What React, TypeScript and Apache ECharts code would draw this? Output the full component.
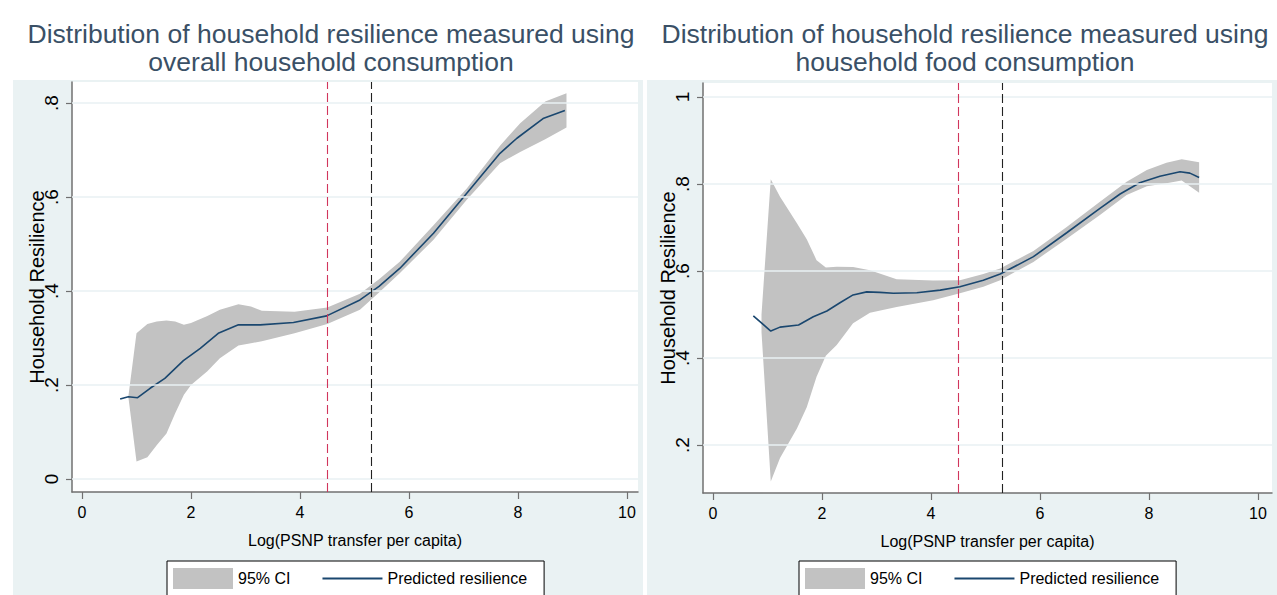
import React, { useEffect, useRef } from "react";
import * as echarts from "echarts";

// ---------------- DATA ----------------
const xTicks = [0, 2, 4, 6, 8, 10];
const leftYTicks = [0, 0.2, 0.4, 0.6, 0.8];
const rightYTicks = [0.2, 0.4, 0.6, 0.8, 1];
const thresholds = [4.5, 5.3];

// Panel 1: overall household consumption
const leftLineX = [0.7, 0.85, 1.02, 1.25, 1.52, 1.86, 2.17, 2.5, 2.87, 3.27, 3.88, 4.49, 5.1, 5.45, 5.83, 6.45, 7.06, 7.67, 7.98, 8.46, 8.86];
const leftLineY = [0.17, 0.175, 0.173, 0.193, 0.214, 0.252, 0.278, 0.31, 0.328, 0.328, 0.333, 0.347, 0.381, 0.41, 0.448, 0.523, 0.608, 0.693, 0.725, 0.767, 0.784];
const leftBandX = [0.85, 1.0, 1.2, 1.37, 1.55, 1.71, 1.87, 2.0, 2.3, 2.53, 2.87, 3.1, 3.3, 3.9, 4.5, 5.1, 5.45, 5.83, 6.45, 7.06, 7.67, 8.04, 8.5, 8.89];
const leftUpper = [0.175, 0.31, 0.33, 0.335, 0.337, 0.335, 0.328, 0.332, 0.347, 0.36, 0.372, 0.367, 0.358, 0.356, 0.365, 0.394, 0.425, 0.462, 0.54, 0.618, 0.709, 0.757, 0.803, 0.821];
const leftLower = [0.175, 0.037, 0.046, 0.072, 0.097, 0.14, 0.179, 0.2, 0.229, 0.257, 0.284, 0.289, 0.293, 0.31, 0.33, 0.36, 0.397, 0.438, 0.509, 0.594, 0.672, 0.696, 0.723, 0.748];

// Panel 2: household food consumption
const rightLineX = [0.74, 1.06, 1.23, 1.57, 1.84, 2.09, 2.33, 2.57, 2.82, 3.06, 3.31, 3.74, 4.17, 4.53, 4.96, 5.27, 5.88, 6.49, 7.1, 7.47, 7.83, 8.2, 8.57, 8.75, 8.92];
const rightLineY = [0.497, 0.462, 0.471, 0.476, 0.495, 0.508, 0.527, 0.545, 0.552, 0.551, 0.549, 0.55, 0.556, 0.564, 0.579, 0.593, 0.633, 0.688, 0.744, 0.777, 0.803, 0.818, 0.828, 0.825, 0.815];
const rightBandX = [0.89, 1.06, 1.23, 1.54, 1.72, 1.9, 2.07, 2.27, 2.57, 2.88, 3.37, 4.04, 4.53, 4.96, 5.27, 5.88, 6.49, 7.1, 7.59, 7.96, 8.32, 8.6, 8.92];
const rightUpper = [0.5, 0.811, 0.771, 0.71, 0.673, 0.625, 0.608, 0.61, 0.609, 0.602, 0.581, 0.578, 0.579, 0.593, 0.606, 0.646, 0.701, 0.759, 0.805, 0.832, 0.849, 0.857, 0.85];
const rightLower = [0.46, 0.116, 0.17, 0.238, 0.287, 0.357, 0.405, 0.43, 0.48, 0.504, 0.517, 0.533, 0.549, 0.564, 0.579, 0.621, 0.674, 0.729, 0.775, 0.795, 0.802, 0.808, 0.78];

const titles = [
  "Distribution of household resilience measured using\noverall household consumption",
  "Distribution of household resilience measured using\nhousehold food consumption",
];
const xName = "Log(PSNP transfer per capita)";
const yName = "Household Resilience";
const ciName = "95% CI";
const lineName = "Predicted resilience";

// ---------------- STYLE ----------------
const SANS = '"Liberation Sans", Arial, sans-serif';
const BAND = "#c2c2c2";
const LINE = "#1a476f";
const GRIDC = "#e9f1f3";
const PANEL = "#eaf2f3";
const AXISC = "#707070";
const RED = "#d1365c";

const fmtY = (v: number) => (v === 0 ? "0" : v === 1 ? "1" : String(v).replace(/^0/, ""));

function bandSeries(idx: number, bx: number[], up: number[], lo: number[]) {
  return {
    type: "custom",
    name: ciName,
    xAxisIndex: idx,
    yAxisIndex: idx,
    z: 2,
    silent: true,
    itemStyle: { color: BAND },
    data: [[bx[0], up[0]]],
    encode: { x: 0, y: 1 },
    renderItem: (_p: any, api: any) => {
      const pts: number[][] = [];
      for (let i = 0; i < bx.length; i++) pts.push(api.coord([bx[i], up[i]]));
      for (let i = bx.length - 1; i >= 0; i--) pts.push(api.coord([bx[i], lo[i]]));
      return { type: "polygon", shape: { points: pts }, style: { fill: BAND } };
    },
  };
}

function gridSeries(idx: number, ticks: number[], lx: number[], ly: number[]) {
  return {
    type: "line",
    xAxisIndex: idx,
    yAxisIndex: idx,
    z: 1,
    silent: true,
    symbol: "none",
    lineStyle: { opacity: 0 },
    data: lx.map((x, i) => [x, ly[i]]),
    markLine: {
      silent: true,
      symbol: "none",
      label: { show: false },
      lineStyle: { color: GRIDC, width: 1.6, type: "solid" },
      data: ticks.map((t) => ({ yAxis: t })),
    },
  };
}

function vlineSeries(idx: number, value: number, color: string, lx: number[], ly: number[]) {
  return {
    type: "line",
    xAxisIndex: idx,
    yAxisIndex: idx,
    z: 4,
    silent: true,
    symbol: "none",
    lineStyle: { opacity: 0 },
    data: lx.map((x, i) => [x, ly[i]]),
    markLine: {
      silent: true,
      symbol: "none",
      label: { show: false },
      lineStyle: { color, width: 1.1, type: [9, 4], opacity: 1 },
      data: [{ xAxis: value }],
    },
  };
}

function lineSeries(idx: number, lx: number[], ly: number[]) {
  return {
    type: "line",
    name: lineName,
    xAxisIndex: idx,
    yAxisIndex: idx,
    z: 3,
    symbol: "none",
    showSymbol: false,
    color: LINE,
    lineStyle: { color: LINE, width: 1.6 },
    data: lx.map((x, i) => [x, ly[i]]),
  };
}

function xAxisOpt(idx: number, max: number) {
  return {
    type: "value",
    gridIndex: idx,
    min: -0.1835,
    max,
    name: xName,
    nameLocation: "middle",
    nameGap: 40,
    nameMoveOverlap: false,
    nameTextStyle: { fontSize: 16, fontFamily: SANS, color: "#000" },
    axisLine: { show: true, onZero: false, lineStyle: { color: AXISC, width: 1.5 } },
    axisTick: { show: true, length: 7, customValues: xTicks, lineStyle: { color: AXISC, width: 1.2 } },
    axisLabel: { customValues: xTicks, margin: 12, fontSize: 16, fontFamily: SANS, color: "#000" },
    splitLine: { show: false },
  };
}

function yAxisOpt(idx: number, min: number, max: number, ticks: number[]) {
  return {
    type: "value",
    gridIndex: idx,
    min,
    max,
    name: yName,
    nameLocation: "middle",
    nameGap: 25,
    nameMoveOverlap: false,
    nameTextStyle: { fontSize: 20, fontFamily: SANS, color: "#000" },
    axisLine: { show: true, onZero: false, lineStyle: { color: AXISC, width: 1.5 } },
    axisTick: { show: true, length: 6, customValues: ticks, lineStyle: { color: AXISC, width: 1.2 } },
    axisLabel: {
      customValues: ticks,
      rotate: 90,
      margin: 11,
      fontSize: 19,
      fontFamily: SANS,
      color: "#000",
      formatter: (v: number) => fmtY(v),
    },
    splitLine: { show: false },
  };
}

function legendOpt(left: number) {
  return {
    left,
    top: 561,
    orient: "horizontal",
    backgroundColor: "#ffffff",
    borderColor: "#000000",
    borderWidth: 1,
    borderRadius: 0,
    padding: [7, 17, 7, 6],
    itemWidth: 60,
    itemHeight: 21,
    itemGap: 31,
    selectedMode: false,
    textStyle: { fontSize: 16, fontFamily: SANS, color: "#000" },
    data: [
      { name: ciName, icon: "rect", itemStyle: { color: BAND } },
      { name: lineName, itemStyle: { color: "rgba(0,0,0,0)", borderWidth: 0, opacity: 0 } },
    ],
  };
}

export default function App() {
  const ref = useRef<HTMLDivElement>(null);
  useEffect(() => {
    if (!ref.current) return;
    const chart = echarts.init(ref.current, undefined, { renderer: "svg" });
    const titleStyle = { fontSize: 26.5, fontWeight: "normal", color: "#3a5066", fontFamily: SANS, lineHeight: 28 };
    const option: any = {
      animation: false,
      backgroundColor: "#ffffff",
      textStyle: { fontFamily: SANS },
      title: [
        { text: titles[0], left: 326, top: 15, textAlign: "center", textStyle: titleStyle },
        { text: titles[1], left: 960, top: 15, textAlign: "center", textStyle: titleStyle },
      ],
      graphic: [
        { type: "rect", z: -10, silent: true, shape: { x: 13, y: 80, width: 630, height: 515 }, style: { fill: PANEL } },
        { type: "rect", z: -10, silent: true, shape: { x: 647, y: 80, width: 630, height: 515 }, style: { fill: PANEL } },
      ],
      grid: [
        { left: 72, top: 82, width: 566, height: 410, show: true, backgroundColor: "#ffffff", borderWidth: 0 },
        { left: 703, top: 83, width: 569, height: 410, show: true, backgroundColor: "#ffffff", borderWidth: 0 },
      ],
      xAxis: [xAxisOpt(0, 10.202), xAxisOpt(1, 10.257)],
      yAxis: [yAxisOpt(0, -0.0277, 0.8447, leftYTicks), yAxisOpt(1, 0.0897, 1.0322, rightYTicks)],
      legend: [legendOpt(167), legendOpt(799)],
      series: [
        gridSeries(0, leftYTicks, leftLineX, leftLineY),
        bandSeries(0, leftBandX, leftUpper, leftLower),
        lineSeries(0, leftLineX, leftLineY),
        vlineSeries(0, thresholds[0], RED, leftLineX, leftLineY),
        vlineSeries(0, thresholds[1], "#222222", leftLineX, leftLineY),
        gridSeries(1, rightYTicks, rightLineX, rightLineY),
        bandSeries(1, rightBandX, rightUpper, rightLower),
        lineSeries(1, rightLineX, rightLineY),
        vlineSeries(1, thresholds[0], RED, rightLineX, rightLineY),
        vlineSeries(1, thresholds[1], "#222222", rightLineX, rightLineY),
      ],
    };
    chart.setOption(option);
    return () => chart.dispose();
  }, []);
  return (
    <div
      ref={ref}
      style={{ position: "fixed", left: 0, top: 0, width: 1277, height: 595, background: "#fff" }}
    />
  );
}
